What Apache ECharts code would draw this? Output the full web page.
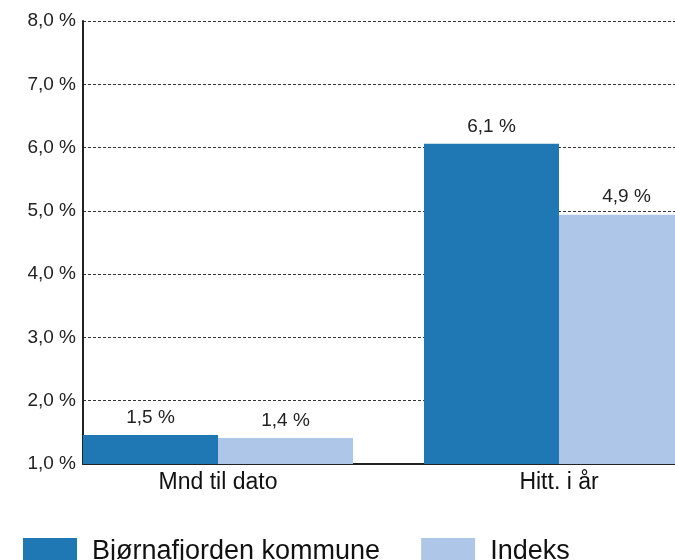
<!DOCTYPE html>
<html>
<head>
<meta charset="utf-8">
<script src="https://cdn.jsdelivr.net/npm/echarts@6/dist/echarts.min.js"></script>
<style>
html, body { margin: 0; padding: 0; background: #fff; }
#chart { width: 675px; height: 560px; }
</style>
</head>
<body>
<div id="chart"></div>
<script>
var categories = ['Mnd til dato', 'Hitt. i år'];
var seriesNames = ['Bjørnafjorden kommune', 'Indeks'];
var kommuneValues = [1.46, 6.06];
var indeksValues = [1.41, 4.94];
var yMin = 1, yMax = 8, yStep = 1;

var myChart = echarts.init(document.getElementById('chart'));

//norsk format: 6,1 %
function pct(v) {
    return v.toFixed(1).replace('.', ',') + ' %';
}

var font = 'Liberation Sans, Arial, sans-serif';

var option = {
    animation: false,
    textStyle: { fontFamily: font },
    legend: {
        left: 23,
        top: 538,
        padding: 0,
        itemWidth: 54,
        itemHeight: 28,
        itemGap: 41,
        icon: 'rect',
        textStyle: { fontSize: 27, color: '#111', fontFamily: font, padding: [0, 0, 0, 10] },
        data: seriesNames
    },
    grid: [
        //bars (wider than the page, right part is cut)
        { left: 47.5, top: 21, width: 682, height: 443, outerBoundsMode: 'none' },
        //axes and dashed lines
        { left: 83, top: 21, right: 0, height: 443, outerBoundsMode: 'none' }
    ],
    xAxis: [
        {
            gridIndex: 0,
            type: 'category',
            data: categories,
            axisLine: { show: false },
            axisTick: { show: false },
            axisLabel: { fontSize: 23, color: '#111', margin: 7, fontFamily: font }
        },
        {
            gridIndex: 1,
            type: 'value',
            min: 0,
            max: 1,
            axisLine: { show: true, lineStyle: { color: '#222', width: 2 } },
            axisTick: { show: false },
            axisLabel: { show: false },
            splitLine: { show: false }
        }
    ],
    yAxis: [
        {
            gridIndex: 0,
            type: 'value',
            min: yMin,
            max: yMax,
            interval: yStep,
            show: false
        },
        {
            gridIndex: 1,
            type: 'value',
            min: yMin,
            max: yMax,
            interval: yStep,
            axisLine: { show: true, lineStyle: { color: '#222', width: 2 } },
            axisTick: { show: false },
            axisLabel: {
                fontSize: 19,
                color: '#222',
                margin: 7,
                fontFamily: font,
                formatter: function (v) { return pct(v); }
            },
            splitLine: { show: true, lineStyle: { color: '#333', width: 1, type: [3, 2] } }
        }
    ],
    series: [
        {
            name: seriesNames[0],
            type: 'bar',
            xAxisIndex: 0,
            yAxisIndex: 0,
            barGap: '0%',
            barCategoryGap: '20.8%',
            itemStyle: { color: '#1f77b4' },
            label: {
                show: true,
                position: 'top',
                distance: 8,
                fontSize: 19,
                color: '#222',
                fontFamily: font,
                formatter: function (p) { return pct(p.value); }
            },
            data: kommuneValues
        },
        {
            name: seriesNames[1],
            type: 'bar',
            xAxisIndex: 0,
            yAxisIndex: 0,
            barGap: '0%',
            barCategoryGap: '20.8%',
            itemStyle: { color: '#aec7e8' },
            label: {
                show: true,
                position: 'top',
                distance: 8,
                fontSize: 19,
                color: '#222',
                fontFamily: font,
                formatter: function (p) { return pct(p.value); }
            },
            data: indeksValues
        }
    ]
};

myChart.setOption(option);
</script>
</body>
</html>
